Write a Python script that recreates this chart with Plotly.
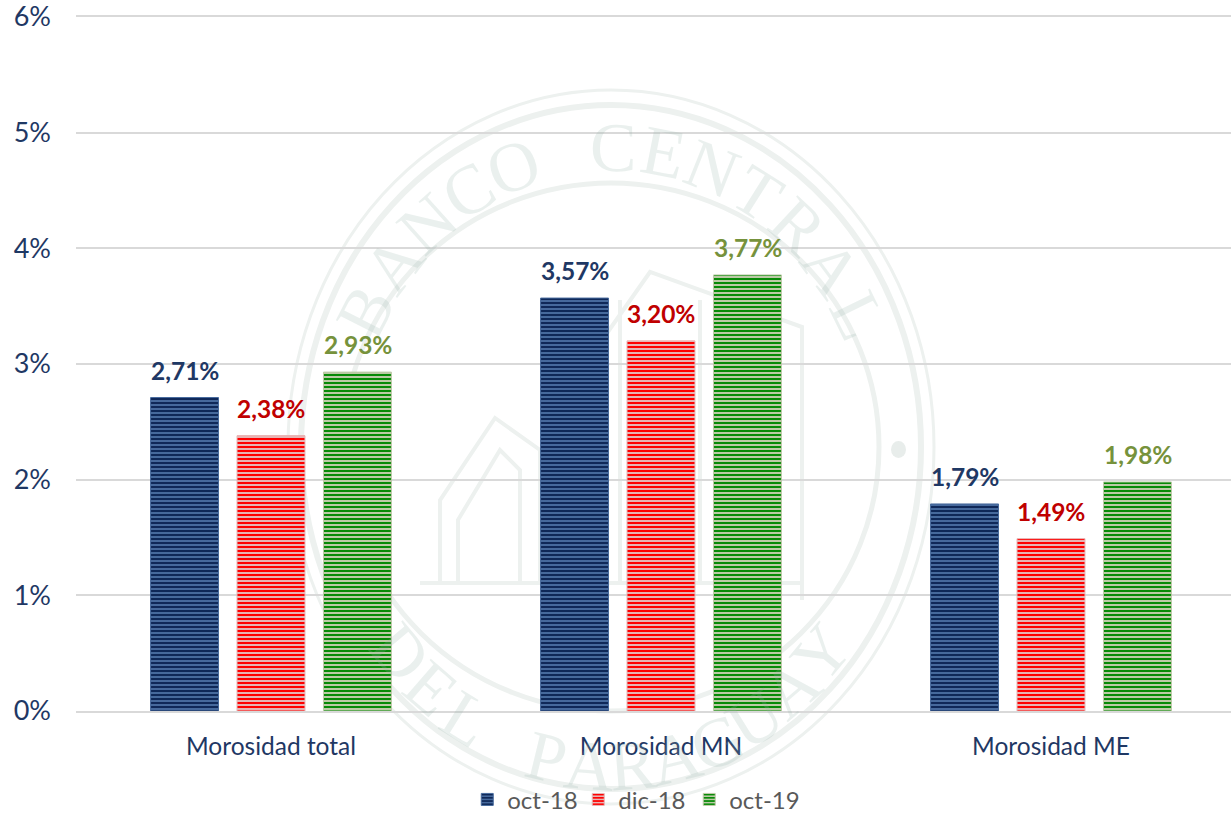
import math
import plotly.graph_objects as go

categories = ["Morosidad total", "Morosidad MN", "Morosidad ME"]
oct_18 = [2.71, 3.57, 1.79]
dic_18 = [2.38, 3.20, 1.49]
oct_19 = [2.93, 3.77, 1.98]
series_names = ["oct-18", "dic-18", "oct-19"]
y_ticks = [0, 1, 2, 3, 4, 5, 6]
y_tick_labels = ["0%", "1%", "2%", "3%", "4%", "5%", "6%"]

W, H = 1231, 814
L, R, T, B = 76, 0, 17, 103
PW, PH = W - L - R, H - T - B
FONT = "Lato"
NAVY, WM = "#1f3864", "rgba(150,178,168,0.2)"
RING = "#edf1ef"

def px(x):
    return (x - L) / PW

def py(y):
    return 1 - (y - T) / PH

fig = go.Figure()
styles = [
    (oct_18, "#46699c", "#0f2858", NAVY),
    (dic_18, "#e6b4b4", "#ff0000", "#c00000"),
    (oct_19, "#bccaa6", "#078a07", "#76923c"),
]
x_pos = list(range(len(categories)))
for name, (vals, bg, fg, lab) in zip(series_names, styles):
    fig.add_trace(go.Bar(
        name=name, x=x_pos, y=vals,
        marker=dict(color=bg, line=dict(color=bg, width=1),
                    pattern=dict(shape="-", fgcolor=fg, bgcolor=bg, fgopacity=1, size=4, solidity=0.5,
                                 fillmode="replace")),
    ))

# Watermark seal
shapes = []
CX, CY = 611, 447
for rx, ry, w in [(323, 357, 3), (310, 342, 6), (268, 264, 5)]:
    shapes.append(dict(type="circle", xref="paper", yref="paper", layer="below",
                       x0=px(CX - rx), x1=px(CX + rx), y0=py(CY + ry), y1=py(CY - ry),
                       line=dict(color=RING, width=w)))
shapes.append(dict(type="circle", xref="paper", yref="paper", layer="below",
                   x0=px(891), x1=px(906), y0=py(458), y1=py(441),
                   fillcolor="#e8edeb", line=dict(width=0)))
building = [
    [(440, 583), (440, 500), (495, 418), (540, 450), (540, 583)],
    [(458, 583), (458, 520), (500, 450), (520, 470), (520, 583)],
    [(420, 583), (800, 583)],
    [(560, 400), (650, 272), (802, 327), (802, 600)],
    [(620, 300), (620, 583)],
    [(700, 300), (700, 583)],
    [(740, 320), (740, 583)],
]
for pts in building:
    d = "M " + " L ".join(f"{px(x):.4f} {py(y):.4f}" for x, y in pts)
    shapes.append(dict(type="path", xref="paper", yref="paper", layer="below", path=d,
                       line=dict(color=RING, width=4)))

annotations = []
def arc_text(text, t0, t1, rx, ry, top=True):
    n = len(text)
    for i, ch in enumerate(text):
        if ch == " ":
            continue
        t = math.radians(t0 + (t1 - t0) * i / (n - 1))
        x = CX + rx * math.sin(t)
        y = CY - ry * math.cos(t) if top else CY + ry * math.cos(t)
        ang = math.degrees(t) if top else -math.degrees(t)
        annotations.append(dict(x=px(x), y=py(y), xref="paper", yref="paper", text=ch, showarrow=False,
                                textangle=ang, font=dict(family="Liberation Serif", size=70, color=WM),
                                xanchor="center", yanchor="middle"))
arc_text("BANCO CENTRAL", -63, 64, 275, 300, True)
arc_text("DEL PARAGUAY", -50, 50, 275, 320, False)

group_offsets = [-86.5 / 390, 0, 86.5 / 390]
for off, (vals, bg, fg, lab) in zip(group_offsets, styles):
    for i, v in zip(x_pos, vals):
        annotations.append(dict(x=i + off, y=v, xref="x", yref="y", yshift=27.5, showarrow=False,
                                text=f"<b>{v:.2f}%</b>".replace(".", ","), yanchor="middle", xanchor="center",
                                font=dict(family=FONT, size=24.5, color=lab)))

fig.update_layout(
    width=W, height=H, margin=dict(l=L, r=R, t=T, b=B, autoexpand=False),
    paper_bgcolor="white", plot_bgcolor="rgba(0,0,0,0)",
    barmode="group", bargap=0.335, bargroupgap=0.214,
    showlegend=True, shapes=shapes, annotations=annotations,
    legend=dict(orientation="h", x=417 / W, xanchor="left", y=-0.128, yanchor="middle",
                font=dict(family=FONT, size=24, color="#595959"), traceorder="normal",
                itemclick=False, bgcolor="rgba(0,0,0,0)", entrywidth=66, entrywidthmode="pixels"),
    font=dict(family=FONT),
    xaxis=dict(range=[-0.5, -0.5 + PW / 390], tickmode="array", tickvals=x_pos, ticktext=categories,
               showgrid=False, zeroline=False, showline=True, mirror=True, linecolor="#d9d9d9", linewidth=2,
               ticks="", ticklabelstandoff=13,
               tickfont=dict(family=FONT, size=24.5, color=NAVY)),
    yaxis=dict(range=[0, 6], tickmode="array", tickvals=y_ticks, ticktext=y_tick_labels,
               showgrid=True, gridcolor="#d9d9d9", gridwidth=2, zeroline=False, ticks="", ticklabelstandoff=24,
               ticklabeloverflow="allow",
               tickfont=dict(family=FONT, size=27, color=NAVY)),
)
fig.write_html("out.html", config=dict(displayModeBar=False),
               post_script="document.body.style.margin='0';document.documentElement.style.overflow='hidden';")
